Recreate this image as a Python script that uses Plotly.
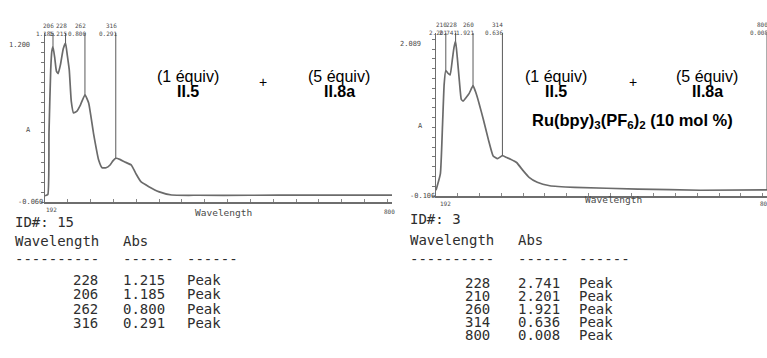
import plotly.graph_objects as go

W, H = 767, 358

# ---- spectrum 1: II.5 (1 equiv) + II.8a (5 equiv) ----
wl_a = [192, 197, 199, 202, 204, 206, 209, 212, 215, 219, 224, 228, 231, 234.5,
        238, 242, 248, 254, 262, 268.5, 277, 286, 292, 299, 306, 311, 316, 324,
        331, 343, 351, 360, 374, 391, 414, 460, 550, 650, 800]
abs_a = [-0.01, 0.0, 0.5, 1.0, 1.15, 1.185, 1.1, 0.99, 0.97, 1.04, 1.17, 1.215,
         1.12, 1.0, 0.75, 0.655, 0.67, 0.718, 0.800, 0.734, 0.491, 0.277, 0.215,
         0.215, 0.237, 0.27, 0.291, 0.28, 0.263, 0.237, 0.17, 0.103, 0.063, 0.023,
         -0.004, -0.006, -0.006, -0.005, -0.005]
peak_wl_a = [228, 206, 262, 316]
peak_abs_a = [1.215, 1.185, 0.800, 0.291]
id_a = "ID#: 15"

# ---- spectrum 2: same mixture + Ru(bpy)3(PF6)2 ----
wl_b = [192, 200, 204, 207, 210, 214, 218, 222, 225, 228, 231, 235, 238.5, 242,
        247, 253, 260, 265, 271, 279, 288, 297, 305, 314, 322, 329, 340, 352, 363,
        378, 401, 447, 563, 678, 800]
abs_b = [0.0, 0.3, 1.2, 1.95, 2.201, 2.15, 2.12, 2.4, 2.62, 2.741, 2.45, 2.0, 1.67,
         1.64, 1.7, 1.78, 1.921, 1.8, 1.6, 1.3, 0.94, 0.63, 0.58, 0.636, 0.60, 0.57,
         0.51, 0.36, 0.236, 0.145, 0.082, 0.053, 0.022, 0.0, 0.008]
peak_wl_b = [228, 210, 260, 314, 800]
peak_abs_b = [2.741, 2.201, 1.921, 0.636, 0.008]
id_b = "ID#: 3"

# axis ranges and printed axis labels
XR = [192, 800]
YR_A = [-0.06, 1.296]
YR_B = [-0.106, 2.89]
ytick_a = [(1.2, "1.200"), (0.518, "A"), (-0.06, "-0.060")]
ytick_b = [(2.689, "2.089"), (1.18, "A"), (-0.106, "-0.106")]

CURVE = "#6b6b6b"
INK = "#4a4a4a"
TABLE_INK = "#2e2e2e"
PRINT_FONT = "DejaVu Sans Mono"
SANS = "Liberation Sans, Arial, sans-serif"


def px(x):
    return x / W


def py(y):
    return 1 - y / H


fig = go.Figure()
fig.add_trace(go.Scatter(x=wl_a, y=abs_a, mode="lines", xaxis="x", yaxis="y",
                         line=dict(color=CURVE, width=1.7, shape="spline", smoothing=0.4),
                         hoverinfo="skip"))
fig.add_trace(go.Scatter(x=wl_b, y=abs_b, mode="lines", xaxis="x2", yaxis="y2",
                         line=dict(color=CURVE, width=1.7, shape="spline", smoothing=0.4),
                         hoverinfo="skip"))

common_x = dict(range=XR, showgrid=False, zeroline=False, showline=True,
                linecolor="#6e6e6e", linewidth=1.6, ticks="inside", ticklen=3,
                tickcolor="#888", tick0=192, dtick=40, showticklabels=False)
common_y = dict(showgrid=False, zeroline=False, showline=True, linecolor="#6e6e6e",
                linewidth=1.3, ticks="outside", ticklen=3, tickcolor="#777",
                showticklabels=False)

fig.update_layout(
    width=W, height=H, margin=dict(l=0, r=0, t=0, b=0),
    paper_bgcolor="white", plot_bgcolor="rgba(0,0,0,0)", showlegend=False,
    xaxis=dict(domain=[px(45), px(392)], anchor="y", **common_x),
    yaxis=dict(domain=[py(202), py(33)], anchor="x", range=YR_A,
               tick0=YR_A[0], dtick=0.08, **common_y),
    xaxis2=dict(domain=[px(436), 1.0], anchor="y2", **common_x),
    yaxis2=dict(domain=[py(196), py(33)], anchor="x2", range=YR_B,
                tick0=YR_B[0], dtick=0.18, **common_y),
)

shapes = []
ann = []


def peak_marks(wls, vals, xref, yref, ytop, row1, row2):
    for w, v in zip(wls, vals):
        shapes.append(dict(type="line", xref=xref, yref=yref, x0=w, x1=w, y0=v, y1=ytop,
                           line=dict(color="#5a5a5a", width=1)))
        ann.append(dict(xref=xref, yref="paper", x=w, y=py(row1), text=str(w),
                        xanchor="right", yanchor="middle", xshift=3, showarrow=False,
                        font=dict(family=PRINT_FONT, size=6, color=INK)))
        ann.append(dict(xref=xref, yref="paper", x=w, y=py(row2), text=f"{v:.3f}",
                        xanchor="right", yanchor="middle", xshift=3, showarrow=False,
                        font=dict(family=PRINT_FONT, size=6, color=INK)))


peak_marks(peak_wl_a, peak_abs_a, "x", "y", YR_A[1], 26, 33)
peak_marks(peak_wl_b, peak_abs_b, "x2", "y2", YR_B[1], 25, 32)


def ylabels(ticks, yref, xs):
    for (v, t), x in zip(ticks, xs):
        ann.append(dict(xref="paper", yref=yref, x=px(x), y=v, text=t, xanchor="right",
                        yanchor="middle", showarrow=False,
                        font=dict(family=PRINT_FONT, size=7, color=INK)))


ylabels(ytick_a, "y", [32, 33, 45])
ylabels(ytick_b, "y2", [423, 425, 437])


def text(x, y, t, size, family=PRINT_FONT, color=INK, anchor="center"):
    ann.append(dict(xref="paper", yref="paper", x=px(x), y=py(y), text=t,
                    xanchor=anchor, yanchor="middle", showarrow=False,
                    font=dict(family=family, size=size, color=color)))


# x-axis printed labels
text(51, 209, str(XR[0]), 6)
text(223, 212, "Wavelength", 9.5)
text(389, 211, str(XR[1]), 6)
text(445, 204, str(XR[0]), 6)
text(613, 199, "Wavelength", 9.5)
text(765, 203, str(XR[1]), 6)

# reaction annotations
for cx, plus_x, r5 in [(188, 263, 339), (556, 633, 707)]:
    text(cx, 76, "(1 équiv)", 16, SANS, "black")
    text(cx, 91, "<b>II.5</b>", 16, SANS, "black")
    text(plus_x, 82, "+", 14, SANS, "black")
    text(r5, 76, "(5 équiv)", 16, SANS, "black")
    text(r5, 91, "<b>II.8a</b>", 16, SANS, "black")
text(632, 121, "<b>Ru(bpy)<sub>3</sub>(PF<sub>6</sub>)<sub>2</sub> (10 mol %)</b>", 16.5,
     SANS, "black")


# peak tables
def table(x0, wl_right, abs_x, peak_x, y_id, y_head, y_dash, y_rows, dy, ident, wls, vals):
    kw = dict(color=TABLE_INK)
    text(x0, y_id, ident, 14, anchor="left", **kw)
    text(x0, y_head, "Wavelength", 14, anchor="left", **kw)
    text(abs_x, y_head, "Abs", 14, anchor="left", **kw)
    text(x0, y_dash, "-" * 10, 14, anchor="left", **kw)
    text(abs_x, y_dash, "-" * 6, 14, anchor="left", **kw)
    text(peak_x, y_dash, "-" * 6, 14, anchor="left", **kw)
    for i, (w, v) in enumerate(zip(wls, vals)):
        y = y_rows + i * dy
        text(wl_right, y, str(w), 14, anchor="right", **kw)
        text(abs_x, y, f"{v:.3f}", 14, anchor="left", **kw)
        text(peak_x, y, "Peak", 14, anchor="left", **kw)


table(13, 100, 121, 185, 222, 241, 259, 280, 14.3, id_a, peak_wl_a, peak_abs_a)
table(408, 492, 516, 577, 219, 240, 259, 283, 13.0, id_b, peak_wl_b, peak_abs_b)

fig.update_layout(shapes=shapes, annotations=ann)
fig.write_html("out.html")
